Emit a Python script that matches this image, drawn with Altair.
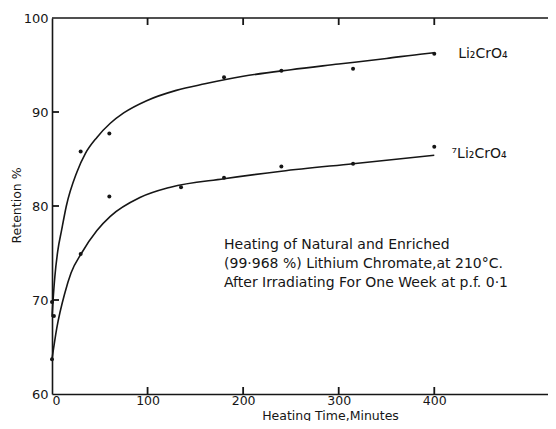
import altair as alt
import pandas as pd

# measured points (minutes, retention %)
nat_t = [0, 2, 30, 60, 180, 240, 315, 400]
nat_y = [69.8, 68.3, 85.8, 87.7, 93.7, 94.4, 94.6, 96.2]
enr_t = [0, 30, 60, 135, 180, 240, 315, 400]
enr_y = [63.7, 74.9, 81.0, 82.0, 83.0, 84.2, 84.5, 86.3]

# smoothed curves as drawn
nat_ct = [0, 1, 3, 6, 10, 15, 26, 35, 47, 61, 75, 99, 130, 160, 200, 250, 300, 350, 390, 400]
nat_cy = [68.2, 69.8, 72.5, 75.2, 77.4, 80.0, 83.6, 85.6, 87.3, 88.8, 89.9, 91.2, 92.3, 93.0, 93.8, 94.5, 95.1, 95.7, 96.2, 96.3]
enr_ct = [0, 5, 13.6, 20, 31, 47, 61, 92, 124, 180, 240, 315, 400]
enr_cy = [63.7, 67.0, 70.8, 72.9, 75.0, 77.4, 78.9, 80.9, 82.0, 82.9, 83.7, 84.5, 85.4]

labels = ["Li₂CrO₄", "⁷Li₂CrO₄"]
label_t = [425, 418]
label_y = [96.2, 85.5]

note = ["Heating of  Natural and Enriched",
        "(99·968 %) Lithium Chromate,at 210°C.",
        "After Irradiating For One Week at p.f. 0·1"]
note_t = 180
note_y = [75.85, 73.8, 71.8]

x_ticks = [0, 100, 200, 300, 400]
x_in_ticks = [100, 200, 300, 400]
y_ticks = [60, 70, 80, 90, 100]
y_in_ticks = [70, 80, 90]

FONT = "DejaVu Sans"
INK = "#161616"

pts = pd.DataFrame({"t": nat_t + enr_t, "y": nat_y + enr_y,
                    "s": ["nat"] * len(nat_t) + ["enr"] * len(enr_t)})
curves = pd.DataFrame({"t": nat_ct + enr_ct, "y": nat_cy + enr_cy,
                       "s": ["nat"] * len(nat_ct) + ["enr"] * len(enr_ct)})
lab = pd.DataFrame({"t": label_t, "y": label_y, "txt": labels})
notes = pd.DataFrame({"t": [note_t] * 3, "y": note_y, "txt": note})
# tick positions along the frame (frame edges come from the tick lists)
xt_bot = pd.DataFrame({"t": x_in_ticks, "y": [y_ticks[0]] * len(x_in_ticks)})
xt_top = pd.DataFrame({"t": x_in_ticks, "y": [y_ticks[-1]] * len(x_in_ticks)})
yt = pd.DataFrame({"t": [x_ticks[0]] * len(y_in_ticks), "y": y_in_ticks})
top_edge = pd.DataFrame({"y": [y_ticks[-1]]})

xs = alt.Scale(domain=[0, 519], nice=False, zero=False)
ys = alt.Scale(domain=[60, 100], nice=False, zero=False)

xax = alt.Axis(values=x_ticks, title="Heating Time,Minutes", grid=False, orient="bottom",
               labelFont=FONT, labelFontSize=12.5, labelColor=INK,
               titleFont=FONT, titleFontSize=12.5, titleFontWeight="normal", titleColor=INK,
               titleX=278, titleY=21, titleAnchor="middle", titleBaseline="middle",
               domainColor=INK, domainWidth=1.6, ticks=False, labelPadding=0)
yax = alt.Axis(values=y_ticks, title="Retention %", grid=False, orient="left",
               labelFont=FONT, labelFontSize=13, labelColor=INK,
               titleFont=FONT, titleFontSize=12.5, titleFontWeight="normal", titleColor=INK,
               titleX=-36, titleY=187, titleAngle=-90, titleAlign="center", titleBaseline="middle",
               domainColor=INK, domainWidth=1.6, ticks=False, labelPadding=4)

line = alt.Chart(curves).mark_line(color=INK, strokeWidth=1.6, interpolate="monotone").encode(
    x=alt.X("t:Q", scale=xs, axis=xax),
    y=alt.Y("y:Q", scale=ys, axis=yax),
    detail="s:N",
)
dots = alt.Chart(pts).mark_circle(color=INK, size=16, opacity=1).encode(
    x=alt.X("t:Q", scale=xs), y=alt.Y("y:Q", scale=ys))
toprule = alt.Chart(top_edge).mark_rule(color=INK, strokeWidth=1.6).encode(
    y=alt.Y("y:Q", scale=ys))
# inward ticks
tick_b = alt.Chart(xt_bot).mark_tick(orient="vertical", color=INK, opacity=1, thickness=1.8, size=7, yOffset=-3.5).encode(
    x=alt.X("t:Q", scale=xs), y=alt.Y("y:Q", scale=ys))
tick_t = alt.Chart(xt_top).mark_tick(orient="vertical", color=INK, opacity=1, thickness=1.8, size=7, yOffset=3.5).encode(
    x=alt.X("t:Q", scale=xs), y=alt.Y("y:Q", scale=ys))
tick_l = alt.Chart(yt).mark_tick(orient="horizontal", color=INK, opacity=1, thickness=1.8, size=7, xOffset=3.5).encode(
    x=alt.X("t:Q", scale=xs), y=alt.Y("y:Q", scale=ys))
labs = alt.Chart(lab).mark_text(align="left", baseline="middle", font=FONT, fontSize=14, color=INK).encode(
    x=alt.X("t:Q", scale=xs), y=alt.Y("y:Q", scale=ys), text="txt:N")
notet = alt.Chart(notes).mark_text(align="left", baseline="middle", font=FONT, fontSize=14, color=INK).encode(
    x=alt.X("t:Q", scale=xs), y=alt.Y("y:Q", scale=ys), text="txt:N")

chart = alt.layer(line, dots, toprule, tick_b, tick_t, tick_l, labs, notet).properties(
    width=496, height=376,
    autosize=alt.AutoSizeParams(type="none"),
    padding={"left": 44, "top": 10, "right": 0, "bottom": 27},
    background="white",
).configure_view(stroke=None)

chart.save("out.html", embed_options={"renderer": "svg", "actions": False})
